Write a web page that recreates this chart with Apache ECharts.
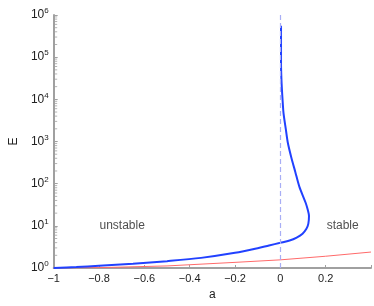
<!DOCTYPE html>
<html><head><meta charset="utf-8">
<script src="https://cdn.jsdelivr.net/npm/echarts@6/dist/echarts.min.js"></script>
<style>html,body{margin:0;padding:0;background:#fff}#c{width:374px;height:306px}</style>
</head><body><div id="c"></div>
<script>
// Blue curve (a, E)
const blueA = [-1, -0.9, -0.8, -0.65, -0.5, -0.35, -0.2, -0.1, -0.05, 0, 0.041, 0.072, 0.098, 0.115, 0.1234, 0.1264, 0.1213, 0.112, 0.0838, 0.066, 0.0481, 0.0328, 0.0243, 0.014, 0.0102, 0.0072, 0.0047, 0.003, 0.003, 0.003];
const blueE = [1, 1.057, 1.127, 1.259, 1.455, 1.738, 2.29, 2.95, 3.43, 3.96, 4.48, 5.26, 6.5, 8.5, 11.1, 17.1, 23.6, 34.8, 85, 190, 425, 948, 1930, 4720, 8980, 16400, 30800, 68700, 200000, 555000];
// Red line (a, E)
const redA = [-1, -0.8, -0.5, -0.2, 0, 0.2, 0.4];
const redE = [1, 1.02, 1.12, 1.36, 1.56, 1.9, 2.39];
const xTicks = [-1, -0.8, -0.6, -0.4, -0.2, 0, 0.2];
const regionLabels = [{name: 'unstable', a: -0.698, E: 10}, {name: 'stable', a: 0.275, E: 10}];

const FONT = '"Liberation Sans", Arial, sans-serif';
const minorTicks = [];
for (let d = 0; d < 6; d++) for (let k = 2; k <= 9; k++) minorTicks.push([-1, k * Math.pow(10, d)]);

const chart = echarts.init(document.getElementById('c'), null, {renderer: 'canvas'});
chart.setOption({
  animation: false,
  grid: {left: 42, right: 3, top: 15, bottom: 33},
  xAxis: {
    type: 'value', min: -1, max: 0.4, interval: 0.2,
    name: 'a', nameLocation: 'middle', nameGap: 21,
    nameTextStyle: {fontFamily: FONT, fontSize: 12, color: '#222'},
    axisLine: {onZero: false, lineStyle: {color: '#a0a0a0', width: 2}},
    axisTick: {inside: true, length: 3, lineStyle: {color: '#a0a0a0'}},
    splitLine: {show: false},
    axisLabel: {
      fontFamily: FONT, fontSize: 11, color: '#222', margin: 5,
      formatter: v => (xTicks.some(t => Math.abs(t - v) < 1e-9) ? (Math.abs(v) < 1e-9 ? '0' : String(+v.toFixed(1)).replace('-', '\u2212')) : '')
    }
  },
  yAxis: {
    type: 'log', logBase: 10, min: 1, max: 1e6,
    name: 'E', nameLocation: 'middle', nameRotate: 90, nameGap: 33,
    nameTextStyle: {fontFamily: FONT, fontSize: 12, color: '#222'},
    axisLine: {onZero: false, lineStyle: {color: '#a0a0a0', width: 2}},
    axisTick: {inside: true, length: 4, lineStyle: {color: '#a0a0a0'}},
    splitLine: {show: false},
    axisLabel: {
      fontFamily: FONT, color: '#222', margin: 5,
      formatter: v => '{b|10}{s|' + Math.round(Math.log10(v)) + '}',
      rich: {
        b: {fontFamily: FONT, fontSize: 12, color: '#222'},
        s: {fontFamily: FONT, fontSize: 8, color: '#222', padding: [0, 0, 8, 0]}
      }
    }
  },
  series: [
    {
      type: 'scatter', data: minorTicks, symbol: 'rect', symbolSize: [3, 1],
      symbolOffset: [2, 0], itemStyle: {color: '#a0a0a0'}, silent: true, z: 1
    },
    {
      type: 'line', data: redA.map((a, i) => [a, redE[i]]), showSymbol: false,
      lineStyle: {color: '#ff6a6a', width: 1}, z: 2,
      markLine: {
        silent: true, symbol: 'none', label: {show: false},
        lineStyle: {color: '#a8aef5', type: [5, 3], width: 1.2},
        data: [{xAxis: 0}]
      }
    },
    {
      type: 'line', data: blueA.map((a, i) => [a, blueE[i]]), showSymbol: false,
      smooth: 0.3, lineStyle: {color: '#2141ff', width: 2}, z: 3
    },
    {
      type: 'scatter', data: regionLabels.map(r => ({name: r.name, value: [r.a, r.E]})),
      symbolSize: 0, silent: true,
      label: {show: true, position: 'inside', formatter: p => p.name, fontFamily: FONT, fontSize: 12, color: '#222'}
    }
  ]
});
</script></body></html>
